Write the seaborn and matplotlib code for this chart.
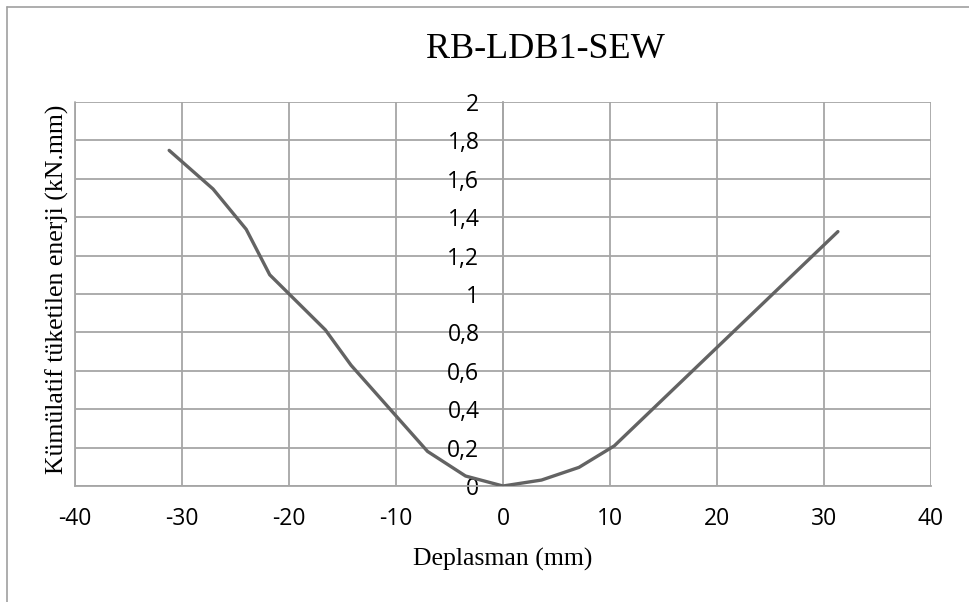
import matplotlib
matplotlib.use("Agg")
import matplotlib.pyplot as plt
from matplotlib.lines import Line2D
from matplotlib.ticker import FuncFormatter, MultipleLocator
import seaborn as sns
import pandas as pd

# Data
displacement = [-31.2, -27.1, -24.0, -21.8, -16.6, -14.2, -7.05, -3.5, 0.0, 3.6, 7.1, 10.4, 31.3]
energy = [1.748, 1.547, 1.337, 1.100, 0.813, 0.629, 0.180, 0.052, 0.0, 0.031, 0.097, 0.209, 1.325]
x_ticks = [-40, -30, -20, -10, 0, 10, 20, 30, 40]
y_ticks = [0, 0.2, 0.4, 0.6, 0.8, 1.0, 1.2, 1.4, 1.6, 1.8, 2.0]
title = "RB-LDB1-SEW"
x_label = "Deplasman (mm)"
y_label = "Kümülatif tüketilen enerji (kN.mm)"

df = pd.DataFrame({"x": displacement, "y": energy})

sns.set_theme(style="white")
plt.rcParams["font.family"] = ["Open Sans", "DejaVu Sans"]

W, H = 969, 602
fig = plt.figure(figsize=(W / 100, H / 100), dpi=100)
ax = fig.add_axes([75 / W, 1 - 486 / H, (931 - 75) / W, (486 - 102) / H])

GRID = "#a6a6a6"
ax.set_xlim(-40, 40)
ax.set_ylim(0, 2)
ax.set_xticks(x_ticks)
ax.set_yticks(y_ticks)
ax.grid(True, color=GRID, linewidth=1.3)
ax.set_axisbelow(True)

sns.lineplot(data=df, x="x", y="y", sort=False, color="#636363", linewidth=2.4,
             ax=ax, legend=False, zorder=3)

for side in ["top", "right"]:
    ax.spines[side].set_visible(False)
ax.spines["left"].set_position(("data", 0))
ax.spines["left"].set_color(GRID)
ax.spines["left"].set_linewidth(1.3)
ax.spines["bottom"].set_color(GRID)
ax.spines["bottom"].set_linewidth(1.3)
# left frame edge at -40
ax.axvline(-40, color=GRID, linewidth=1.3, clip_on=False, zorder=0)

fmt = FuncFormatter(lambda v, p: (f"{v:g}").replace(".", ","))
ax.yaxis.set_major_formatter(fmt)
ax.xaxis.set_major_formatter(FuncFormatter(lambda v, p: f"{v:g}"))
ax.tick_params(axis="both", length=0, labelsize=16.5, colors="#000000")
ax.tick_params(axis="y", pad=17)
ax.tick_params(axis="x", pad=15)
ax.set_xlabel("")
ax.set_ylabel("")

serif = ["Liberation Serif", "DejaVu Serif"]
fig.text(545 / W, 1 - 49 / H, title, ha="center", va="center", fontsize=26,
         family=serif, color="#000000")
fig.text(503 / W, 1 - 559 / H, x_label, ha="center", va="center", fontsize=18.5,
         family=serif, color="#000000")
fig.text(57 / W, 1 - 289 / H, y_label, ha="center", va="center", rotation=90,
         fontsize=18.5, family=serif, color="#000000")

# outer chart frame (only top and left visible in the crop)
fig.add_artist(Line2D([7 / W, 1.0], [1 - 7 / H, 1 - 7 / H], transform=fig.transFigure,
                      color="#a0a0a0", linewidth=1.2))
fig.add_artist(Line2D([7 / W, 7 / W], [1 - 7 / H, 0.0], transform=fig.transFigure,
                      color="#a0a0a0", linewidth=1.2))

fig.savefig("out.png", dpi=100, facecolor="white")
